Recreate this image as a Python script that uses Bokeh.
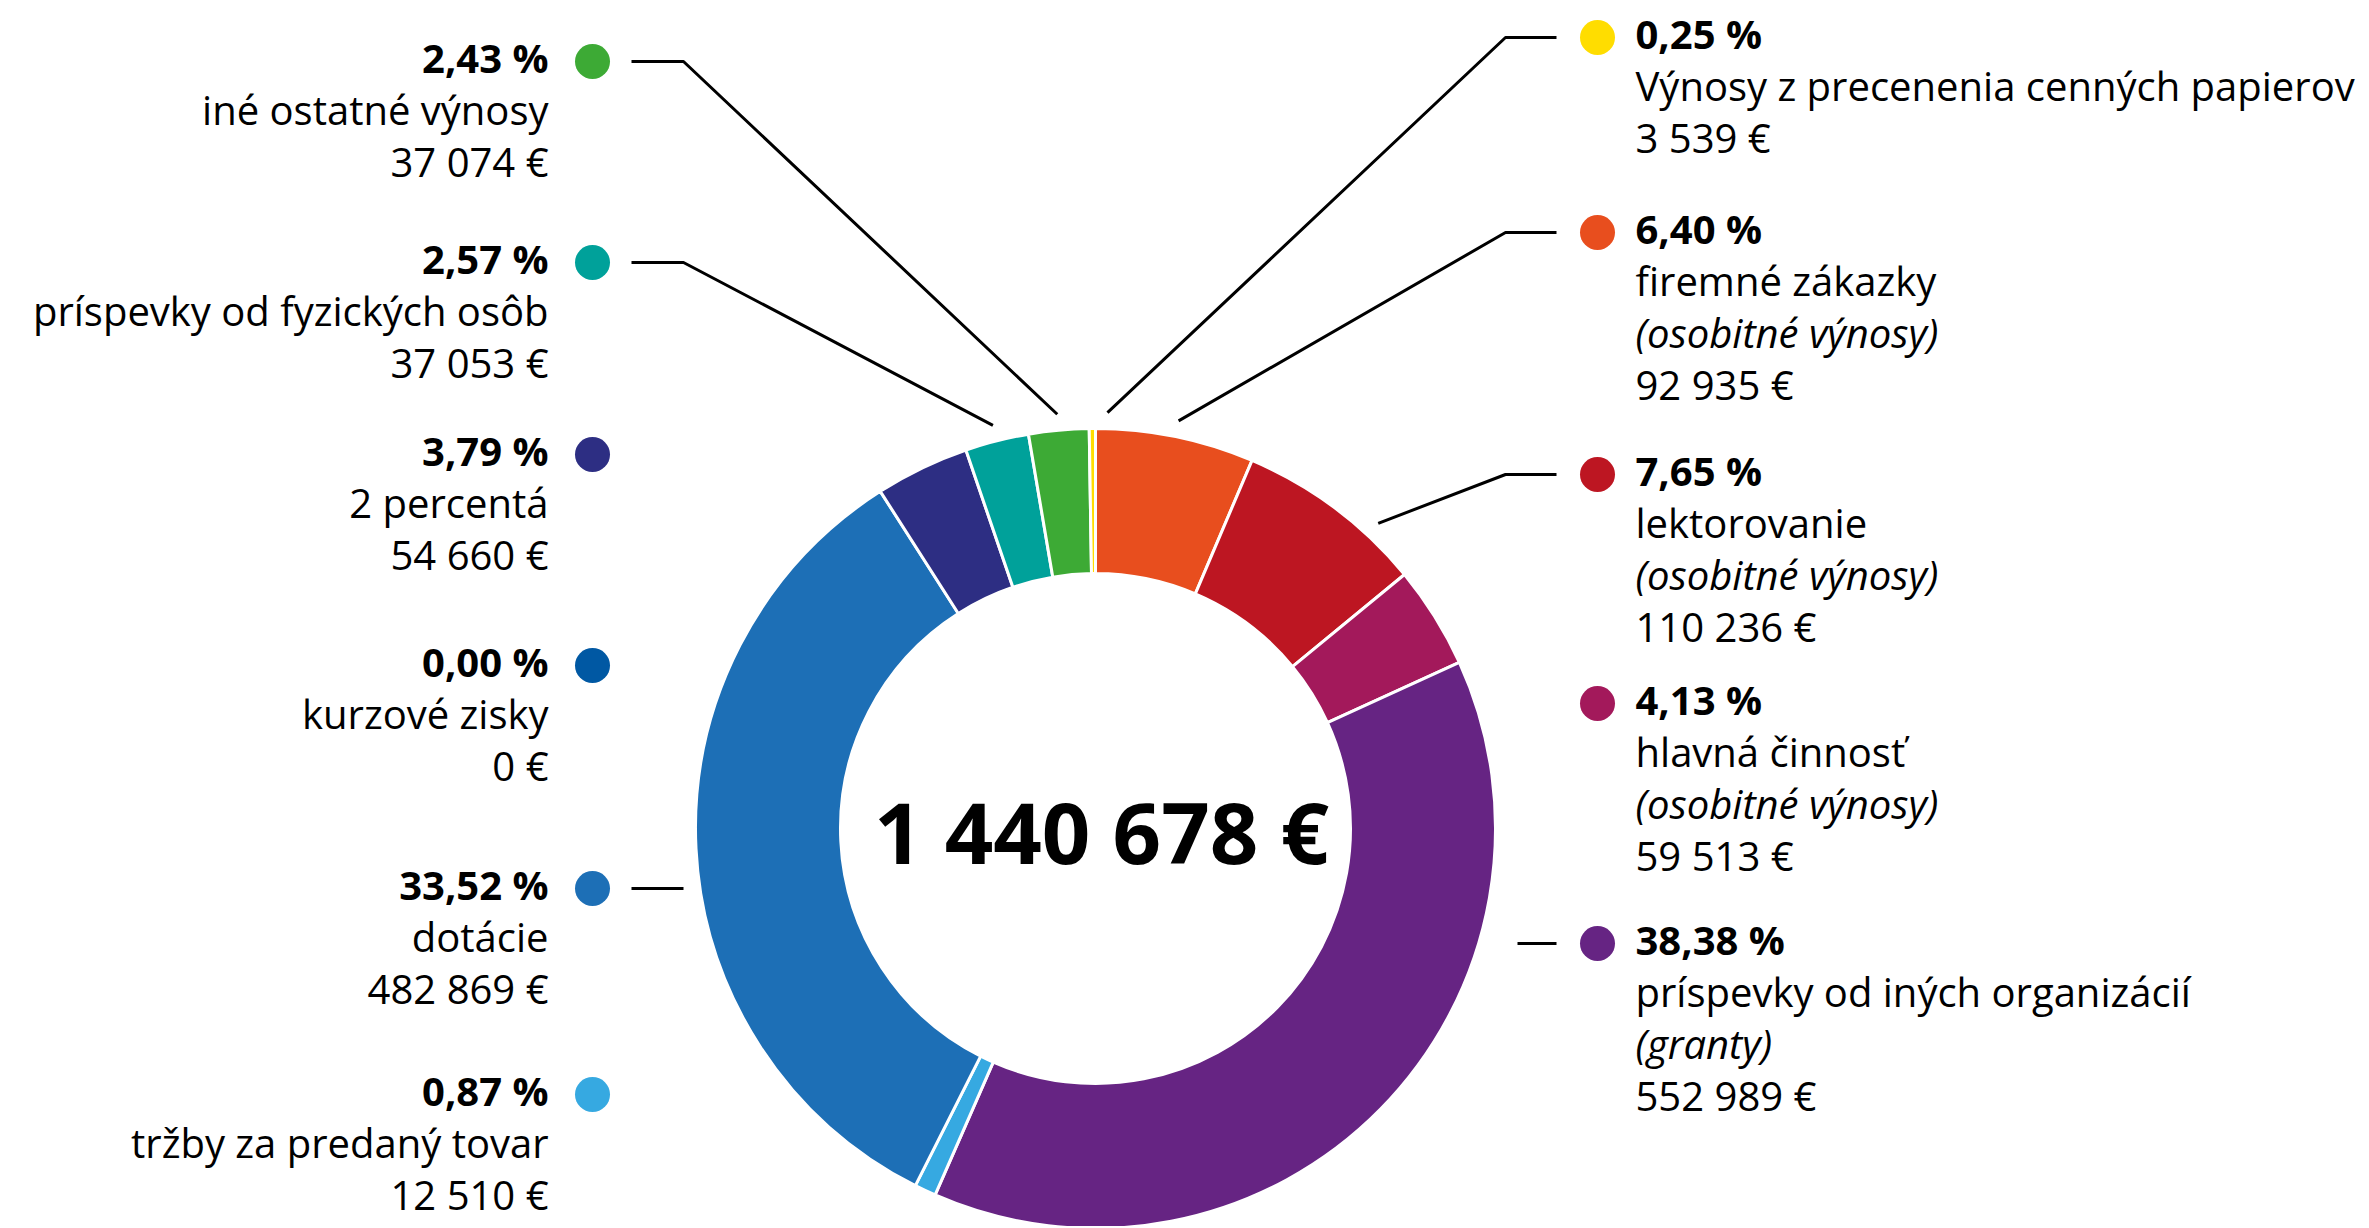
import math
from bokeh.plotting import figure
from bokeh.models import Range1d, ColumnDataSource
from bokeh.embed import file_html
from bokeh.resources import INLINE
from bokeh.core.properties import value

# ---------------- data (clockwise from 12 o'clock) ----------------
names = [
    "firemné zákazky",
    "lektorovanie",
    "hlavná činnosť",
    "príspevky od iných organizácií",
    "tržby za predaný tovar",
    "dotácie",
    "kurzové zisky",
    "2 percentá",
    "príspevky od fyzických osôb",
    "iné ostatné výnosy",
    "Výnosy z precenenia cenných papierov",
]
notes = ["osobitné výnosy", "osobitné výnosy", "osobitné výnosy", "granty",
         "", "", "", "", "", "", ""]
percents = [6.40, 7.65, 4.13, 38.38, 0.87, 33.52, 0.00, 3.79, 2.57, 2.43, 0.25]
amounts = [92935, 110236, 59513, 552989, 12510, 482869, 0, 54660, 37053, 37074, 3539]
colors = ["#E84E1E", "#BD1622", "#A3195B", "#662483", "#36A9E1", "#1D6FB6",
          "#0058A3", "#2D2E83", "#00A19A", "#3DAA35", "#FFDD00"]
TOTAL = 1440678

# ---------------- layout ----------------
W, H = 2367, 1226
PAGE_H = 1228
CX, CY = 1095, 828          # screen coords of donut centre
R_OUT, R_IN = 400, 255
label_side = ["R", "R", "R", "R", "L", "L", "L", "L", "L", "L", "R"]
label_top = [231, 473, 702, 942, 1093, 887, 664, 453, 261, 60, 36]
connector = ["elbow", "elbow", None, "stub", None, "stub", None, None, "elbow", "elbow", "elbow"]
conn_nudge = [0, 6.0, 0, 0, 0, 0, 0, 0, 0, 0, 2.1]
CONN_R = 416
LEFT_TEXT_X, RIGHT_TEXT_X = 548, 1635
LEFT_DOT_X, RIGHT_DOT_X = 592, 1597
LEFT_LINE_X0, LEFT_ELBOW_X = 631, 683
RIGHT_LINE_X0, RIGHT_ELBOW_X, RIGHT_STUB_X = 1556, 1505, 1517
PITCH = 52
TEXT_DY = -3
FONT = value("Open Sans")
FS = "40px"


def sy(y):
    return PAGE_H - y


def fmt_pct(v):
    return f"{v:.2f}".replace(".", ",") + " %"


def fmt_eur(v):
    return f"{v:,}".replace(",", " ") + " €"


p = figure(width=W, height=H, x_range=Range1d(0, W),
           y_range=Range1d(PAGE_H - H, PAGE_H),
           output_backend="svg", toolbar_location=None, min_border=0,
           x_axis_location=None, y_axis_location=None)
p.grid.visible = False
p.outline_line_color = None
p.background_fill_color = "white"
p.border_fill_color = "white"

# ---------------- donut ----------------
tot = sum(percents)
cum = 0.0
starts, ends, mids, wcol = [], [], [], []
for v, c in zip(percents, colors):
    c0 = cum / tot
    cum += v
    c1 = cum / tot
    mids.append((c0 + c1) / 2 * 360.0)
    if v <= 0:
        continue
    starts.append(math.pi / 2 - 2 * math.pi * c1)
    ends.append(math.pi / 2 - 2 * math.pi * c0)
    wcol.append(c)

src = ColumnDataSource(dict(x=[CX] * len(starts), y=[sy(CY)] * len(starts),
                            start=starts, end=ends, color=wcol))
p.annular_wedge(x="x", y="y", inner_radius=R_IN, outer_radius=R_OUT,
                start_angle="start", end_angle="end", direction="anticlock",
                fill_color="color", line_color="white", line_width=3, source=src)

p.text(x=[CX + 6], y=[sy(CY + 2)], text=[fmt_eur(TOTAL)], text_font=FONT,
       text_font_size="85px", text_font_style="bold", text_align="center",
       text_baseline="middle", text_color="black")

# ---------------- connectors ----------------
cx_list, cy_list = [], []
for i, kind in enumerate(connector):
    if kind is None:
        continue
    ly = label_top[i] + 1
    left = label_side[i] == "L"
    x0 = LEFT_LINE_X0 if left else RIGHT_LINE_X0
    if kind == "stub":
        xe = LEFT_ELBOW_X if left else RIGHT_STUB_X
        cx_list.append([x0, xe])
        cy_list.append([sy(ly), sy(ly)])
    else:
        xe = LEFT_ELBOW_X if left else RIGHT_ELBOW_X
        a = math.radians(mids[i] + conn_nudge[i])
        tx = CX + CONN_R * math.sin(a)
        ty = CY - CONN_R * math.cos(a)
        cx_list.append([x0, xe, tx])
        cy_list.append([sy(ly), sy(ly), sy(ty)])
p.multi_line(xs=cx_list, ys=cy_list, line_color="black", line_width=3)

# ---------------- dots and labels ----------------
for side in ("L", "R"):
    idx = [i for i in range(len(names)) if label_side[i] == side]
    dot_x = LEFT_DOT_X if side == "L" else RIGHT_DOT_X
    tx = LEFT_TEXT_X if side == "L" else RIGHT_TEXT_X
    align = "right" if side == "L" else "left"
    p.scatter(x=[dot_x] * len(idx), y=[sy(label_top[i] + 1) for i in idx],
              size=35, marker="circle", fill_color=[colors[i] for i in idx],
              line_color=None)
    bx, by, bt = [], [], []
    rx, ry, rt = [], [], []
    ix, iy, it = [], [], []
    for i in idx:
        y = label_top[i] + TEXT_DY
        bx.append(tx); by.append(sy(y)); bt.append(fmt_pct(percents[i]))
        y += PITCH
        rx.append(tx); ry.append(sy(y)); rt.append(names[i])
        if notes[i]:
            y += PITCH
            ix.append(tx); iy.append(sy(y)); it.append("(" + notes[i] + ")")
        y += PITCH
        rx.append(tx); ry.append(sy(y)); rt.append(fmt_eur(amounts[i]))
    p.text(x=bx, y=by, text=bt, text_font=FONT, text_font_size=FS,
           text_font_style="bold", text_align=align, text_baseline="middle",
           text_color="black")
    p.text(x=rx, y=ry, text=rt, text_font=FONT, text_font_size=FS,
           text_align=align, text_baseline="middle", text_color="black")
    if ix:
        p.text(x=ix, y=iy, text=it, text_font=FONT, text_font_size=FS,
               text_font_style="italic", text_align=align,
               text_baseline="middle", text_color="black")

open("out.html", "w").write(file_html(p, INLINE))
